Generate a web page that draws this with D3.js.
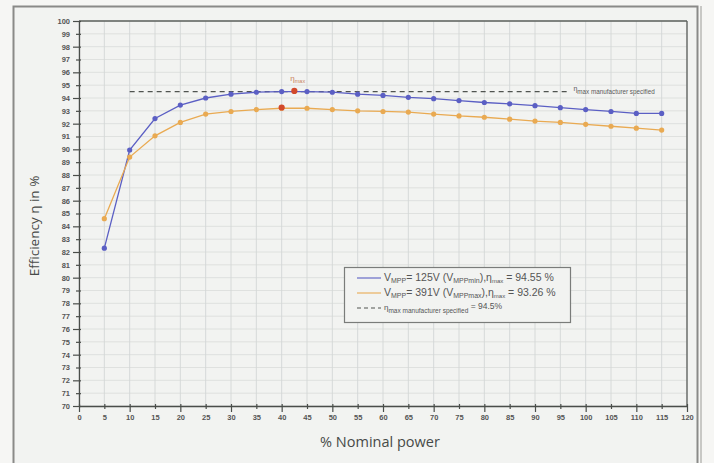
<!DOCTYPE html>
<html><head><meta charset="utf-8">
<script src="https://cdn.jsdelivr.net/npm/d3@7"></script>
<style>body{margin:0;background:#f3f3f1;}svg{display:block;}</style>
</head><body>
<svg id="c" width="714" height="463"></svg>
<script>
const xValues = [5,10,15,20,25,30,35,40,45,50,55,60,65,70,75,80,85,90,95,100,105,110,115];
const blueValues = [82.3,89.95,92.4,93.45,94.0,94.3,94.45,94.5,94.5,94.45,94.3,94.2,94.05,93.95,93.8,93.65,93.55,93.4,93.25,93.1,92.95,92.8,92.8];
const orangeValues = [84.6,89.4,91.05,92.1,92.75,92.95,93.1,93.2,93.2,93.1,93.0,92.95,92.9,92.75,92.6,92.5,92.35,92.2,92.1,91.95,91.8,91.65,91.5];
const maxX = [42.5, 40];
const maxY = [94.55, 93.26];
const specLevel = 94.5;
const specRange = [10, 97];
const xTicks = d3.range(0, 121, 5);
const yTicks = d3.range(70, 101, 1);

const svg = d3.select("#c");
const x = d3.scaleLinear().domain([0,120]).range([79,687]);
const y = d3.scaleLinear().domain([70,100]).range([406,21]);

// page frame
svg.append("rect").attr("x",0).attr("y",0).attr("width",714).attr("height",463).attr("fill","#f6f6f4");
svg.append("rect").attr("x",13.5).attr("y",6.5).attr("width",684).attr("height",470).attr("fill","#f2f3f1").attr("stroke","#8a8a88").attr("stroke-width",2);
svg.append("line").attr("x1",701).attr("x2",701).attr("y1",6).attr("y2",463).attr("stroke","#b8b8b6").attr("stroke-width",1.5);

// grid
const g = svg.append("g");
g.selectAll(".hg").data(yTicks).join("line")
  .attr("x1",x(0)).attr("x2",x(120)).attr("y1",d=>y(d)).attr("y2",d=>y(d))
  .attr("stroke","#d9dcdb").attr("stroke-width",0.8);
g.selectAll(".vg").data(xTicks).join("line")
  .attr("y1",y(70)).attr("y2",y(100)).attr("x1",d=>x(d)).attr("x2",d=>x(d))
  .attr("stroke","#d3d7d6").attr("stroke-width",0.9);

// plot border (top/right)
svg.append("line").attr("x1",x(0)).attr("x2",x(120)).attr("y1",y(100)).attr("y2",y(100)).attr("stroke","#5c605c").attr("stroke-width",1.3);
svg.append("line").attr("x1",x(120)).attr("x2",x(120)).attr("y1",y(100)).attr("y2",y(70)).attr("stroke","#5c605c").attr("stroke-width",1.3);

// axes
const xAxis = d3.axisBottom(x).tickValues(xTicks).tickSize(0).tickPadding(9).tickFormat(d3.format("d"));
const xa = svg.append("g").attr("transform",`translate(0,${y(70)})`).call(xAxis);
xa.select(".domain").attr("stroke","#4a4e4a").attr("stroke-width",1.3);
xa.selectAll(".tick line").remove();
xa.selectAll(".tick").append("line").attr("y1",-2).attr("y2",d=>d%10===0?6:3).attr("stroke","#4a4e4a").attr("stroke-width",1.2);
xa.selectAll("text").attr("font-family","Liberation Sans, Arial, sans-serif").attr("font-size",7.5).attr("font-weight","bold").attr("fill","#555");

const yAxis = d3.axisLeft(y).tickValues(yTicks).tickSize(0).tickPadding(9).tickFormat(d3.format("d"));
const ya = svg.append("g").attr("transform",`translate(${x(0)},0)`).call(yAxis);
ya.select(".domain").attr("stroke","#4a4e4a").attr("stroke-width",1.3);
ya.selectAll(".tick line").remove();
ya.selectAll(".tick").append("line").attr("x1",2).attr("x2",d=>d%2===0?-6:-3).attr("stroke","#4a4e4a").attr("stroke-width",1.2);
ya.selectAll("text").attr("font-family","Liberation Sans, Arial, sans-serif").attr("font-size",7.5).attr("font-weight","bold").attr("fill","#555");

// axis titles
svg.append("text").attr("x",380).attr("y",447).attr("text-anchor","middle")
  .attr("font-family","Open Sans, sans-serif").attr("font-size",14.5).attr("fill","#474a48").text("% Nominal power");
svg.append("text").attr("transform","translate(39,226) rotate(-90)").attr("text-anchor","middle")
  .attr("font-family","Open Sans, sans-serif").attr("font-size",13.5).attr("fill","#474a48").text("Efficiency η in %");

// spec dashed line
svg.append("line").attr("x1",x(specRange[0])).attr("x2",x(specRange[1])).attr("y1",y(specLevel)).attr("y2",y(specLevel))
  .attr("stroke","#505450").attr("stroke-width",1.1).attr("stroke-dasharray","5,4");
const sl = svg.append("text").attr("x",x(specRange[1])+3).attr("y",y(specLevel)+1)
  .attr("font-family","Liberation Sans, Arial, sans-serif").attr("fill","#5a5a5a").attr("font-size",6);
sl.append("tspan").attr("font-size",7).attr("dy",-2).text("η");
sl.append("tspan").attr("dy",3).attr("font-size",6.3).text("max manufacturer specified");

// series
const blue = "#5b5fc4", orange = "#e9aa52", red = "#d2492b";
const line = d3.line().x(d=>x(d[0])).y(d=>y(d[1]));
const series = [[blueValues, blue],[orangeValues, orange]];
series.forEach(([vals,col])=>{
  const pts = xValues.map((v,i)=>[v, vals[i]]);
  svg.append("path").datum(pts).attr("d",line).attr("fill","none").attr("stroke",col).attr("stroke-width",1.3);
  svg.append("g").selectAll("circle").data(pts).join("circle")
    .attr("cx",d=>x(d[0])).attr("cy",d=>y(d[1])).attr("r",2.6).attr("fill",col);
});
svg.append("g").selectAll("circle").data(maxX.map((v,i)=>[v,maxY[i]])).join("circle")
  .attr("cx",d=>x(d[0])).attr("cy",d=>y(d[1])).attr("r",3.1).attr("fill",red);

// eta max label
const el = svg.append("text").attr("x",x(maxX[0])-4).attr("y",y(maxY[0])-10)
  .attr("font-family","Liberation Sans, Arial, sans-serif").attr("fill","#c9855e");
el.append("tspan").attr("font-size",8).text("η");
el.append("tspan").attr("font-size",5.5).attr("dy",2).text("max");

// legend
const lg = svg.append("g");
lg.append("rect").attr("x",344.5).attr("y",267.5).attr("width",226).attr("height",55)
  .attr("fill","#f2f3f1").attr("stroke","#7a7c7a").attr("stroke-width",1.2);
const rows = [
  {col:blue, dash:null, y:281, parts:[["V",10.5,0],["MPP",7,2],["= 125V (V",10.5,-2],["MPPmin",7,2],["),",10.5,-2],["η",10.5,0],["max",6,2],[" = 94.55 %",10.5,-2]]},
  {col:orange, dash:null, y:296, parts:[["V",10.5,0],["MPP",7,2],["= 391V (V",10.5,-2],["MPPmax",7,2],["),",10.5,-2],["η",10.5,0],["max",6,2],[" = 93.26 %",10.5,-2]]},
  {col:"#505450", dash:"4,3", y:311, parts:[["η",8,-1],["max manufacturer specified",6.5,3],[" = 94.5%",8.5,-4]]}
];
rows.forEach(r=>{
  const ln = lg.append("line").attr("x1",357).attr("x2",381).attr("y1",r.y-3).attr("y2",r.y-3).attr("stroke",r.col).attr("stroke-width",1.1);
  if(r.dash) ln.attr("stroke-dasharray",r.dash);
  const t = lg.append("text").attr("x",384).attr("y",r.y).attr("font-family","Liberation Sans, Arial, sans-serif").attr("fill","#555");
  r.parts.forEach(p=>t.append("tspan").attr("font-size",p[1]).attr("dy",p[2]).text(p[0]));
});
</script>
</body></html>
